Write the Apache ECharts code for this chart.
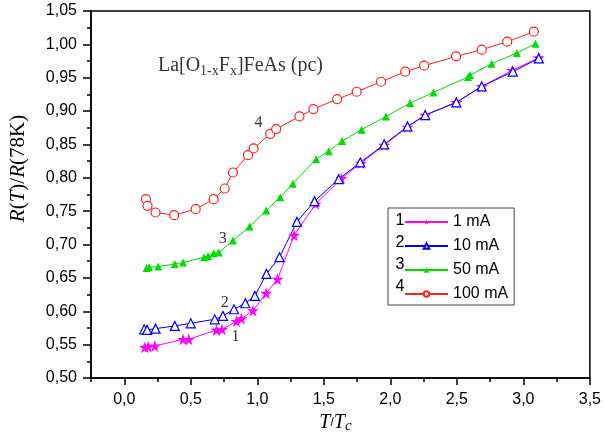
<!DOCTYPE html>
<html>
<head>
<meta charset="utf-8">
<script src="https://cdn.jsdelivr.net/npm/echarts@6/dist/echarts.min.js"></script>
<style>
  html, body { margin: 0; padding: 0; background: #fff; }
  #chart { width: 604px; height: 447px; }
</style>
</head>
<body>
<div id="chart"></div>
<script>
// T/Tc and R(T)/R(78K)
const t1 = [0.155, 0.180, 0.230, 0.442, 0.485, 0.693, 0.735, 0.843, 0.880, 0.967, 1.067, 1.152, 1.277, 1.439, 1.632, 1.780, 1.954, 2.129, 2.262, 2.496, 2.687, 2.916, 3.116];
const r1 = [0.546, 0.547, 0.548, 0.558, 0.558, 0.572, 0.573, 0.585, 0.589, 0.601, 0.627, 0.648, 0.714, 0.761, 0.799, 0.822, 0.849, 0.876, 0.894, 0.913, 0.937, 0.961, 0.980];

const t2 = [0.150, 0.172, 0.235, 0.380, 0.500, 0.680, 0.742, 0.825, 0.910, 0.982, 1.069, 1.167, 1.298, 1.430, 1.612, 1.774, 1.954, 2.129, 2.262, 2.496, 2.687, 2.921, 3.116];
const r2 = [0.573, 0.572, 0.574, 0.578, 0.582, 0.588, 0.593, 0.603, 0.612, 0.623, 0.656, 0.681, 0.734, 0.765, 0.798, 0.823, 0.850, 0.877, 0.894, 0.913, 0.937, 0.959, 0.979];

const t3 = [0.168, 0.187, 0.255, 0.380, 0.442, 0.600, 0.630, 0.672, 0.710, 0.817, 0.942, 1.067, 1.172, 1.267, 1.442, 1.537, 1.637, 1.784, 1.967, 2.149, 2.324, 2.584, 2.599, 2.762, 2.951, 3.091];
const r3 = [0.665, 0.666, 0.667, 0.671, 0.673, 0.681, 0.683, 0.687, 0.688, 0.706, 0.727, 0.751, 0.771, 0.791, 0.828, 0.840, 0.855, 0.872, 0.892, 0.912, 0.928, 0.951, 0.954, 0.971, 0.987, 1.001];

const t4 = [0.163, 0.175, 0.235, 0.375, 0.537, 0.672, 0.755, 0.817, 0.930, 0.972, 1.097, 1.142, 1.317, 1.422, 1.600, 1.747, 1.930, 2.112, 2.254, 2.494, 2.687, 2.879, 3.079];
const r4 = [0.768, 0.758, 0.748, 0.744, 0.753, 0.768, 0.784, 0.808, 0.834, 0.844, 0.866, 0.873, 0.892, 0.903, 0.918, 0.929, 0.944, 0.959, 0.968, 0.982, 0.992, 1.004, 1.019];

const names = ['1 mA', '10 mA', '50 mA', '100 mA'];
const xTicks = [0, 0.5, 1, 1.5, 2, 2.5, 3, 3.5];

// curve numbers written next to the curves, in data coords
const curveTags = [[0.837, 0.561, '1'], [0.755, 0.612, '2'], [0.74, 0.708, '3'], [1.01, 0.882, '4']];

const zip = (xs, ys) => xs.map((x, i) => [x, ys[i]]);
const comma = (v, d) => v.toFixed(d).replace('.', ',');

const star = 'path://M50,0 L61,35 L98,35 L68,57 L79,91 L50,70 L21,91 L32,57 L2,35 L39,35 Z';
const serif = '"Liberation Serif", "Times New Roman", serif';
const sans = '"Liberation Sans", Arial, sans-serif';

const chart = echarts.init(document.getElementById('chart'));

const option = {
    backgroundColor: '#fff',
    animation: false,
    grid: { left: 91, right: 14, top: 11, bottom: 69, show: true, borderColor: '#000', borderWidth: 1.5 },
    legend: {
        orient: 'vertical',
        left: 388,
        top: 208,
        data: names,
        itemWidth: 43,
        itemHeight: 7,
        itemGap: 8,
        padding: [6, 6, 3, 16],
        borderColor: '#444',
        borderWidth: 1,
        textStyle: { fontFamily: sans, fontSize: 16, color: '#000', lineHeight: 14 }
    },
    xAxis: [{
        type: 'value',
        min: -0.25,
        max: 3.5,
        interval: 0.25,
        splitLine: { show: false },
        axisLine: { onZero: false, lineStyle: { color: '#000', width: 1.5 } },
        axisTick: { customValues: xTicks, length: 7, lineStyle: { color: '#000', width: 1.5 } },
        axisLabel: {
            customValues: xTicks,
            formatter: v => comma(v, 1),
            fontFamily: sans, fontSize: 16, color: '#000', margin: 14
        },
        name: '{i|T}/{i|T}{s|c}',
        nameLocation: 'middle',
        nameGap: 28,
        nameTextStyle: {
            padding: [0, 10, 0, 0],
            rich: {
                i: { fontFamily: serif, fontStyle: 'italic', fontSize: 20, color: '#000', lineHeight: 22 },
                s: { fontFamily: serif, fontStyle: 'italic', fontSize: 15, color: '#000', lineHeight: 12, verticalAlign: 'bottom' }
            }
        }
    }, {
        // minor ticks every 0.25
        type: 'value',
        position: 'bottom',
        min: -0.25,
        max: 3.5,
        interval: 0.25,
        splitLine: { show: false },
        axisLine: { show: false, onZero: false },
        axisLabel: { show: false },
        axisTick: { length: 4, lineStyle: { color: '#000', width: 1.5 } }
    }],
    yAxis: {
        type: 'value',
        min: 0.5,
        max: 1.05,
        interval: 0.05,
        splitLine: { show: false },
        axisLine: { onZero: false, lineStyle: { color: '#000', width: 1.5 } },
        axisTick: { length: 8, lineStyle: { color: '#000', width: 1.5 } },
        minorTick: { show: true, splitNumber: 2, length: 4, lineStyle: { color: '#000', width: 1.5 } },
        axisLabel: { formatter: v => comma(v, 2), fontFamily: sans, fontSize: 16, color: '#000', margin: 14 },
        name: '{i|R}({i|T})/{i|R}(78K)',
        nameLocation: 'middle',
        nameRotate: 90,
        nameGap: 62,
        nameTextStyle: {
            padding: [0, 0, 0, 52],
            rich: {
                i: { fontFamily: serif, fontStyle: 'italic', fontSize: 21, color: '#000' }
            },
            fontFamily: serif, fontSize: 21, color: '#000'
        }
    },
    graphic: names.map((n, i) => ({
        type: 'text',
        style: {
            text: String(i + 1), x: 400, y: 220.5 + i * 22, align: 'center', verticalAlign: 'middle',
            font: '16px ' + sans, fill: '#000'
        },
        z: 100
    })),
    series: [{
        name: '1 mA', type: 'line', data: zip(t1, r1),
        symbol: star, symbolSize: 12,
        lineStyle: { color: '#ff00ff', width: 1 },
        itemStyle: { color: '#ff00ff' }
    }, {
        name: '10 mA', type: 'line', data: zip(t2, r2),
        symbol: 'triangle', symbolSize: 9,
        lineStyle: { color: '#0000ff', width: 1 },
        itemStyle: { color: '#fff', borderColor: '#0000ff', borderWidth: 1.2 }
    }, {
        name: '50 mA', type: 'line', data: zip(t3, r3),
        symbol: 'triangle', symbolSize: 8,
        lineStyle: { color: '#00dd00', width: 1 },
        itemStyle: { color: '#00dd00' }
    }, {
        name: '100 mA', type: 'line', data: zip(t4, r4),
        symbol: 'circle', symbolSize: 9,
        lineStyle: { color: '#ff2020', width: 1 },
        itemStyle: { color: '#fff', borderColor: '#ff2020', borderWidth: 1.2 }
    }, {
        name: 'tags', type: 'scatter', silent: true, symbolSize: 0,
        data: curveTags,
        label: {
            show: true, position: 'inside', formatter: p => p.data[2],
            fontFamily: serif, fontSize: 16, color: '#000'
        }
    }, {
        name: 'title', type: 'scatter', silent: true, symbolSize: 0,
        data: [[0.253, 0.9676]],
        label: {
            show: true, position: 'right', distance: 0,
            formatter: '{n|La[O}{s|1-x}{n|F}{s|x}{n|]FeAs (pc)}',
            rich: {
                n: { fontFamily: serif, fontSize: 20, color: '#000', lineHeight: 24 },
                s: { fontFamily: serif, fontSize: 14, color: '#000', lineHeight: 14, verticalAlign: 'bottom' }
            }
        }
    }]
};

chart.setOption(option);
</script>
</body>
</html>
